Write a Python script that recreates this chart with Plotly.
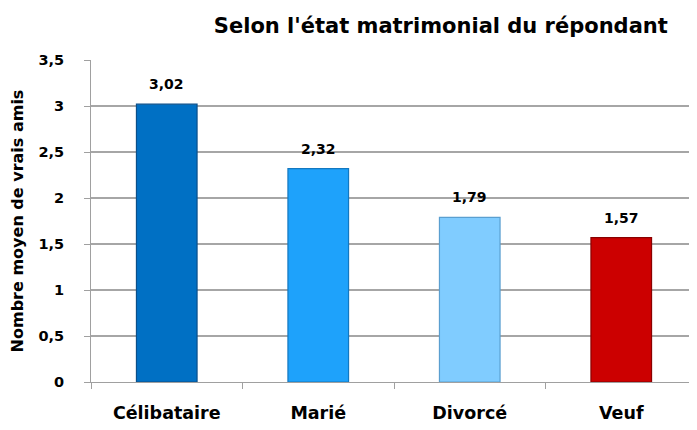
import plotly.graph_objects as go

categories = ["Célibataire", "Marié", "Divorcé", "Veuf"]
values = [3.02, 2.32, 1.79, 1.57]
bar_colors = ["#0070c4", "#1ea2fb", "#80ccff", "#cc0000"]
edge_colors = ["#0a4f8a", "#1378c0", "#5a9fd0", "#8a0000"]
tick_vals = [0, 0.5, 1, 1.5, 2, 2.5, 3, 3.5]

FONT = "DejaVu Sans"

fig = go.Figure()
fig.add_trace(go.Bar(
    x=categories, y=values,
    marker=dict(color=bar_colors, line=dict(color=edge_colors, width=1.2)),
    width=0.4,
    hoverinfo="skip",
))

for c, v in zip(categories, values):
    fig.add_annotation(
        x=c, y=v, text=f"{v:.2f}".replace(".", ","),
        showarrow=False, yanchor="bottom", yshift=10,
        font=dict(family=FONT, size=14, color="black", weight="bold"),
    )

fig.update_layout(
    width=697, height=430,
    margin=dict(l=83, r=8, t=52, b=56),
    paper_bgcolor="white", plot_bgcolor="white",
    separators=", ",
    showlegend=False,
    title=dict(
        text="<b>Selon l'état matrimonial du répondant</b>",
        x=0.621, xanchor="center", y=0.96, yanchor="middle",
        font=dict(family=FONT, size=21, color="black"),
    ),
    font=dict(family=FONT, color="black"),
)

fig.update_xaxes(
    showline=True, linecolor="#a0a0a0", linewidth=1,
    ticks="outside", tickson="boundaries", ticklen=6, tickcolor="#a0a0a0",
    tickfont=dict(family=FONT, size=17.5, color="black", weight="bold"),
    ticklabelstandoff=15,
    showgrid=False,
)
fig.update_yaxes(
    range=[0, 3.5], tickvals=tick_vals,
    showline=True, linecolor="#a0a0a0", linewidth=1,
    ticks="outside", ticklen=6, tickcolor="#a0a0a0",
    showgrid=True, gridcolor="#a6a6a6", gridwidth=1.5,
    zeroline=False,
    tickfont=dict(family=FONT, size=14.5, color="black", weight="bold"),
    ticklabelstandoff=17,
    title=dict(text="<b>Nombre moyen de vrais amis</b>",
               font=dict(family=FONT, size=16, color="black"), standoff=10),
)

fig.write_html("out.html")
